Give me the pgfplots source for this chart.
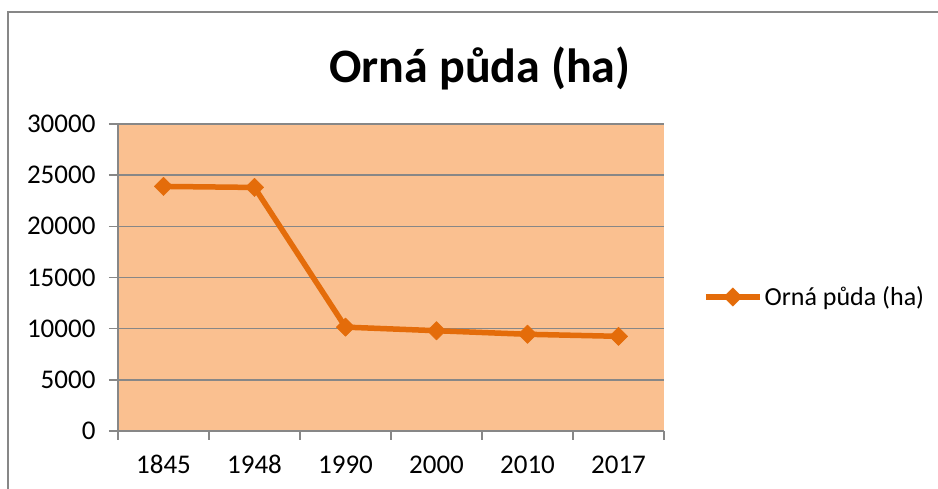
\documentclass[border=0pt]{standalone}
\usepackage{pgfplots}
\pgfplotsset{compat=1.18}
\usepackage{fontspec}
\setmainfont{Carlito}
\definecolor{lineor}{HTML}{E46C0A}
\definecolor{plotbg}{HTML}{FAC090}
\definecolor{gridg}{HTML}{878787}
\begin{document}
\begin{tikzpicture}[x=1pt,y=1pt]
\path[use as bounding box] (0,0) rectangle (938,489);
\draw[gridg, line width=1.5pt] (8,0) -- (8,477) -- (938,477);
\node[font=\fontsize{48}{56}\selectfont\bfseries] at (480,421) {Orná půda (ha)};
\begin{axis}[
 at={(118pt,58pt)}, anchor=south west,
 scale only axis, width=546pt, height=307pt,
 xmin=-0.5, xmax=5.5, ymin=0, ymax=30000,
 axis lines*=left,
 axis line style={gridg, line width=1.5pt},
 axis background/.style={fill=plotbg},
 ymajorgrids, grid style={gridg, line width=1.5pt},
 ytick={0,5000,...,30000},
 xtick={-0.5,0.5,...,5.5}, xticklabels={},
 extra x ticks={0,...,5}, extra x tick labels={1845,1948,1990,2000,2010,2017},
 extra x tick style={major tick length=0pt},
 tick align=outside, major tick length=9pt,
 tick style={draw=gridg, line width=1.5pt},
 tick label style={font=\fontsize{27}{32}\selectfont},
 xticklabel style={yshift=-21pt},
 yticklabel style={xshift=-10pt, /pgf/number format/1000 sep={}},
 /pgf/number format/assume math mode=true,
 scaled y ticks=false,
 legend style={at={(1.0714,0.4365)}, anchor=west, draw=none, fill=none, inner sep=0pt, font=\fontsize{26}{31}\selectfont},
 legend cell align=left,
 legend image code/.code={\draw[mark repeat=2,mark phase=2,#1] plot coordinates {(0pt,0pt)(27pt,0pt)(54pt,0pt)};},
]
\addplot[color=lineor, line width=5.5pt, line join=round, mark=square*, mark size=6.5pt, mark options={rotate=45, line width=0.5pt}]
 coordinates {(0,23900)(1,23800)(2,10150)(3,9800)(4,9450)(5,9250)};
\addlegendentry{Orná půda (ha)}
\end{axis}
\end{tikzpicture}
\end{document}
